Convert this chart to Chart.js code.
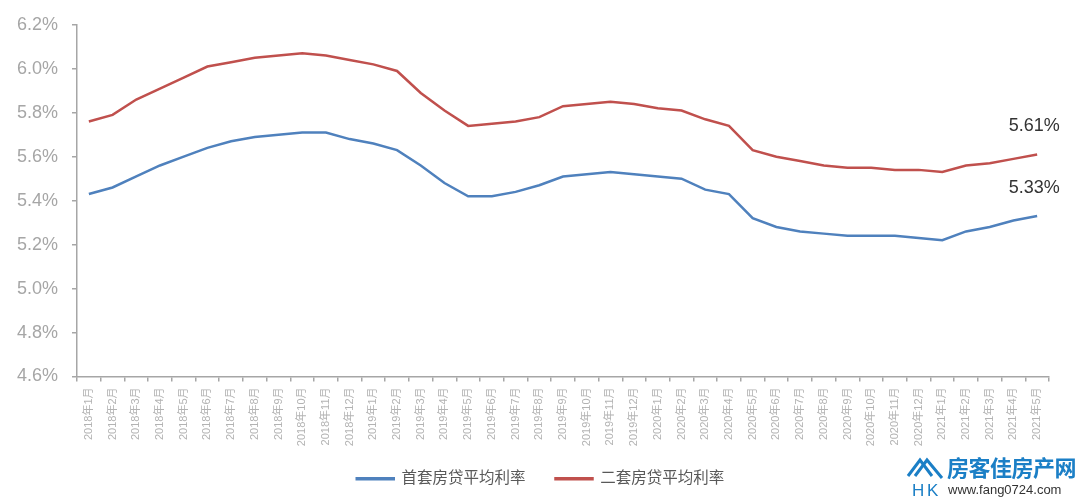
<!DOCTYPE html>
<html>
<head>
<meta charset="utf-8">
<script src="https://cdn.jsdelivr.net/npm/chart.js@4.4.1/dist/chart.umd.min.js"></script>
<style>
  html, body { margin: 0; padding: 0; background: #fff; }
  #wrap { position: relative; width: 1080px; height: 504px; }
  #logo { position: absolute; left: 906px; top: 454px; width: 174px; height: 46px; }
  #logo .name { position: absolute; left: 41px; top: 0px; font: bold 22px "Noto Sans CJK SC", sans-serif; color: #1b7fc6; line-height: 24px; letter-spacing: -0.5px; }
  #logo .url { position: absolute; left: 42px; top: 28px; font: 13px "Liberation Sans", Arial, sans-serif; color: #333; line-height: 16px; }
  #logo svg { position: absolute; left: 0; top: 0; }
</style>
</head>
<body>
<div id="wrap">
  <canvas id="myChart" width="1080" height="504"></canvas>
  <div id="logo">
    <svg width="40" height="44" viewBox="0 0 40 44">
      <polyline points="2,22 14,6 26,22" fill="none" stroke="#1b7fc6" stroke-width="3"/>
      <polyline points="9,22 21,6 36,24" fill="none" stroke="#1b7fc6" stroke-width="3"/>
      <text x="6" y="42" font-family="Liberation Sans, Arial" font-size="17" fill="#1b7fc6">H</text>
      <text x="21" y="42" font-family="Liberation Sans, Arial" font-size="17" fill="#1b7fc6">K</text>
    </svg>
    <div class="name">房客佳房产网</div>
    <div class="url">www.fang0724.com</div>
  </div>
</div>
<script>
// 월별 카테고리
var months = [
  "2018年1月", "2018年2月", "2018年3月", "2018年4月", "2018年5月", "2018年6月",
  "2018年7月", "2018年8月", "2018年9月", "2018年10月", "2018年11月", "2018年12月",
  "2019年1月", "2019年2月", "2019年3月", "2019年4月", "2019年5月", "2019年6月",
  "2019年7月", "2019年8月", "2019年9月", "2019年10月", "2019年11月", "2019年12月",
  "2020年1月", "2020年2月", "2020年3月", "2020年4月", "2020年5月", "2020年6月",
  "2020年7月", "2020年8月", "2020年9月", "2020年10月", "2020年11月", "2020年12月",
  "2021年1月", "2021年2月", "2021年3月", "2021年4月", "2021年5月"
];

// 首套房贷平均利率
var firstRate = [
  5.43, 5.46, 5.51, 5.56, 5.60, 5.64, 5.67, 5.69, 5.70, 5.71, 5.71, 5.68,
  5.66, 5.63, 5.56, 5.48, 5.42, 5.42, 5.44, 5.47, 5.51, 5.52, 5.53, 5.52,
  5.51, 5.50, 5.45, 5.43, 5.32, 5.28, 5.26, 5.25, 5.24, 5.24, 5.24, 5.23,
  5.22, 5.26, 5.28, 5.31, 5.33
];

// 二套房贷平均利率
var secondRate = [
  5.76, 5.79, 5.86, 5.91, 5.96, 6.01, 6.03, 6.05, 6.06, 6.07, 6.06, 6.04,
  6.02, 5.99, 5.89, 5.81, 5.74, 5.75, 5.76, 5.78, 5.83, 5.84, 5.85, 5.84,
  5.82, 5.81, 5.77, 5.74, 5.63, 5.60, 5.58, 5.56, 5.55, 5.55, 5.54, 5.54,
  5.53, 5.56, 5.57, 5.59, 5.61
];

var seriesNames = ["首套房贷平均利率", "二套房贷平均利率"];
var yMin = 4.6, yMax = 6.2, yStep = 0.2;

var blue = "#4f81bd";
var red = "#c0504d";
var axisGray = "#a6a6a6";
var fontFam = "'Liberation Sans', 'Noto Sans CJK SC', Arial, sans-serif";

// 마지막 값 라벨
var lastLabel = {
  id: "lastLabel",
  afterDatasetsDraw: function (chart) {
    var ctx = chart.ctx;
    ctx.save();
    ctx.font = "18px " + fontFam;
    ctx.fillStyle = "#333";
    ctx.textAlign = "center";
    ctx.textBaseline = "middle";
    chart.data.datasets.forEach(function (ds, i) {
      var meta = chart.getDatasetMeta(i);
      var pt = meta.data[meta.data.length - 1];
      var v = ds.data[ds.data.length - 1];
      ctx.fillText(v.toFixed(2) + "%", pt.x - 3, pt.y - 28);
    });
    ctx.restore();
  }
};

// 범례 위치 보정 (가운데 정렬 + 축 라벨 쪽으로 올림)
var legendShift = {
  id: "legendShift",
  afterLayout: function (chart) {
    var lg = chart.legend;
    var h = lg.bottom - lg.top;
    lg.top = 480 - 30 - 9;
    lg.bottom = lg.top + h;
    lg.left += 16;
    lg.right += 16;
  }
};

new Chart("myChart", {
  type: "line",
  data: {
    labels: months,
    datasets: [{
      label: seriesNames[0],
      data: firstRate,
      borderColor: blue,
      backgroundColor: blue,
      borderWidth: 2.5,
      pointRadius: 0,
      tension: 0
    }, {
      label: seriesNames[1],
      data: secondRate,
      borderColor: red,
      backgroundColor: red,
      borderWidth: 2.5,
      pointRadius: 0,
      tension: 0
    }]
  },
  options: {
    responsive: false,
    animation: false,
    layout: { padding: { top: 13, right: 31, left: 0, bottom: -8 } },
    plugins: {
      tooltip: { enabled: false },
      legend: {
        position: "bottom",
        labels: {
          boxWidth: 37,
          boxHeight: 1,
          padding: 30,
          color: "#595959",
          font: { size: 15.5, family: fontFam }
        }
      }
    },
    scales: {
      x: {
        offset: true,
        border: { display: true, color: axisGray, width: 1.5 },
        grid: { display: true, drawOnChartArea: false, drawTicks: true, tickLength: 5, color: axisGray, lineWidth: 1.5, offset: true },
        ticks: {
          autoSkip: false,
          maxRotation: 90,
          minRotation: 90,
          padding: 6,
          color: "#b3b3b3",
          font: { size: 11, family: fontFam }
        },
        afterFit: function (scale) { scale.height = 80; }
      },
      y: {
        min: yMin,
        max: yMax,
        border: { display: true, color: axisGray, width: 1.5 },
        grid: { display: true, drawOnChartArea: false, drawTicks: true, tickLength: 5, color: axisGray, lineWidth: 1.5 },
        ticks: {
          stepSize: yStep,
          padding: 14,
          color: "#a6a6a6",
          font: { size: 18, family: fontFam },
          callback: function (v) { return v.toFixed(1) + "%"; }
        },
        afterFit: function (scale) { scale.width = 77; }
      }
    }
  },
  plugins: [lastLabel, legendShift]
});
</script>
</body>
</html>
